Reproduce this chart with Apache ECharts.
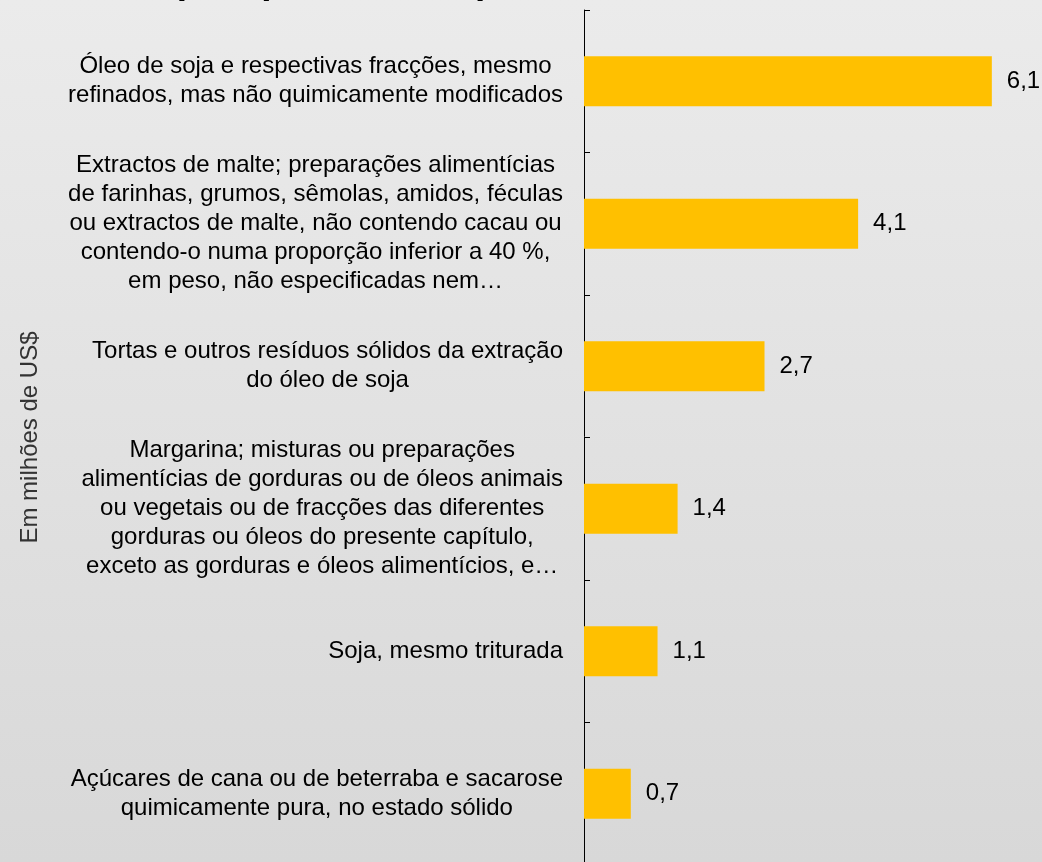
<!DOCTYPE html>
<html>
<head>
<meta charset="utf-8">
<script src="https://cdn.jsdelivr.net/npm/echarts@6/dist/echarts.min.js"></script>
<style>
html,body{margin:0;padding:0;}
#chart{width:1042px;height:862px;}
</style>
</head>
<body>
<div id="chart"></div>
<script>
const titleText = 'Principais produtos importados';
const axisName = 'Em milhões de US$';
const categories = [
  'Óleo de soja e respectivas fracções, mesmo\nrefinados, mas não quimicamente modificados',
  'Extractos de malte; preparações alimentícias\nde farinhas, grumos, sêmolas, amidos, féculas\nou extractos de malte, não contendo cacau ou\ncontendo-o numa proporção inferior a 40 %,\nem peso, não especificadas nem…',
  'Tortas e outros resíduos sólidos da extração\ndo óleo de soja',
  'Margarina; misturas ou preparações\nalimentícias de gorduras ou de óleos animais\nou vegetais ou de fracções das diferentes\ngorduras ou óleos do presente capítulo,\nexceto as gorduras e óleos alimentícios, e…',
  'Soja, mesmo triturada',
  'Açúcares de cana ou de beterraba e sacarose\nquimicamente pura, no estado sólido'
];
const values = [6.1, 4.1, 2.7, 1.4, 1.1, 0.7];

const chart = echarts.init(document.getElementById('chart'));
const FONT = '"Liberation Sans", Arial, sans-serif';
chart.setOption({
  backgroundColor: new echarts.graphic.LinearGradient(0, 0, 0, 1, [
    {offset: 0, color: '#ebebeb'},
    {offset: 1, color: '#d8d8d8'}
  ]),
  animation: false,
  title: {
    text: titleText,
    left: 74,
    top: -36,
    padding: 0,
    textStyle: {fontSize: 37, fontWeight: 'bold', fontFamily: FONT, color: '#000'}
  },
  grid: {left: 584, top: 10, width: 468, height: 855, containLabel: false, outerBoundsMode: 'none'},
  xAxis: {
    type: 'value', min: 0, max: 7, interval: 1, show: false
  },
  yAxis: {
    type: 'category',
    data: categories,
    inverse: true,
    name: axisName,
    nameLocation: 'middle',
    nameRotate: 90,
    nameGap: 542,
    nameTextStyle: {fontSize: 24, fontFamily: FONT, color: '#333333'},
    axisLine: {show: true, lineStyle: {color: '#000', width: 1}},
    axisTick: {show: true, inside: true, length: 6, lineStyle: {color: '#000'}},
    axisLabel: {
      interval: 0,
      margin: 21,
      align: 'right',
      fontSize: 24,
      fontFamily: FONT,
      color: '#000',
      lineHeight: 29,
      formatter: function (v) {
        return v.split('\n').map(function (l) { return '{c|' + l + '}'; }).join('\n');
      },
      rich: {
        c: {align: 'center', fontSize: 24, fontFamily: FONT, color: '#000', lineHeight: 29}
      }
    },
    splitLine: {show: false}
  },
  series: [{
    type: 'bar',
    data: values,
    barWidth: 50,
    itemStyle: {color: '#ffc000'},
    label: {
      show: true,
      position: 'right',
      distance: 15,
      fontSize: 24,
      fontFamily: FONT,
      color: '#000',
      formatter: function (p) { return p.value.toFixed(1).replace('.', ','); }
    }
  }]
});
</script>
</body>
</html>
